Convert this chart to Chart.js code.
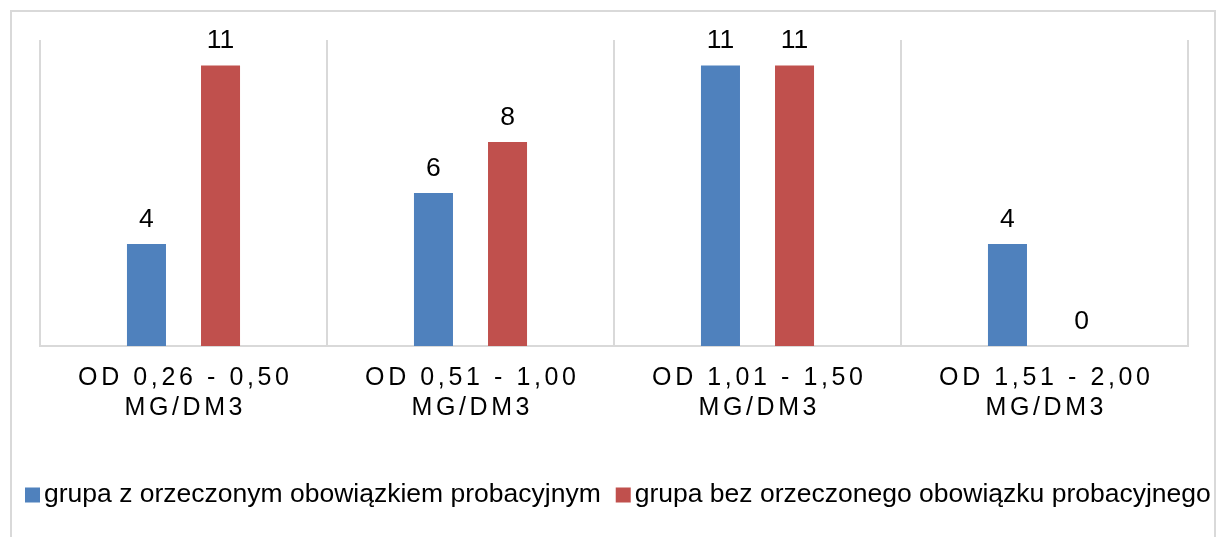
<!DOCTYPE html>
<html>
<head>
<meta charset="utf-8">
<script src="https://cdn.jsdelivr.net/npm/chart.js@4.4.1/dist/chart.umd.min.js"></script>
<style>
  html, body { margin: 0; padding: 0; background: #ffffff; }
  #wrap { width: 1217px; height: 537px; position: relative; }
</style>
</head>
<body>
<div id="wrap"><canvas id="c" width="1217" height="537"></canvas></div>
<script>
const categories = [
  ["OD 0,26 - 0,50", "MG/DM3"],
  ["OD 0,51 - 1,00", "MG/DM3"],
  ["OD 1,01 - 1,50", "MG/DM3"],
  ["OD 1,51 - 2,00", "MG/DM3"]
];
const seriesNames = [
  "grupa z orzeczonym obowiązkiem probacyjnym",
  "grupa bez orzeczonego obowiązku probacyjnego"
];
const withProbation = [4, 6, 11, 4];
const withoutProbation = [11, 8, 11, 0];
const seriesColors = ["#4f81bd", "#c0504d"];
const yMin = 0;
const yMax = 12;

const FONT = "'Liberation Sans', Arial, sans-serif";

const frame = {
  id: 'frame',
  beforeDraw(chart) {
    const ctx = chart.ctx;
    ctx.save();
    ctx.strokeStyle = '#d9d9d9';
    ctx.lineWidth = 2;
    ctx.beginPath();
    ctx.moveTo(10, 11); ctx.lineTo(1216, 11);
    ctx.moveTo(11, 10); ctx.lineTo(11, 537);
    ctx.moveTo(1215, 10); ctx.lineTo(1215, 537);
    ctx.stroke();
    ctx.restore();
  }
};

const spacedLabels = {
  id: 'spacedLabels',
  afterLayout(chart) {
    const s = chart.scales.x;
    if (s && !s.__spaced) {
      const orig = s.drawLabels.bind(s);
      s.drawLabels = function (area) {
        const ctx = this.ctx;
        ctx.save();
        ctx.letterSpacing = '3.6px';
        ctx.translate(1.8, 0);
        orig(area);
        ctx.restore();
      };
      s.__spaced = true;
    }
  }
};

const valueLabels = {
  id: 'valueLabels',
  afterDatasetsDraw(chart) {
    const ctx = chart.ctx;
    ctx.save();
    ctx.font = "26.5px " + FONT;
    ctx.fillStyle = '#000000';
    ctx.textAlign = 'center';
    ctx.textBaseline = 'alphabetic';
    chart.data.datasets.forEach((ds, i) => {
      const meta = chart.getDatasetMeta(i);
      meta.data.forEach((el, j) => {
        ctx.fillText(String(ds.data[j]), el.x, el.y - 17.5);
      });
    });
    ctx.restore();
  }
};

const customLegend = {
  id: 'customLegend',
  afterDraw(chart) {
    const ctx = chart.ctx;
    ctx.save();
    ctx.font = "26.5px " + FONT;
    ctx.textBaseline = 'middle';
    ctx.textAlign = 'left';
    let x = 25;
    const yc = 495;
    chart.data.datasets.forEach((ds, i) => {
      ctx.fillStyle = ds.backgroundColor;
      ctx.fillRect(x, yc - 7.5, 15, 15);
      x += 19;
      ctx.fillStyle = '#000000';
      ctx.fillText(ds.label, x, yc);
      x += ctx.measureText(ds.label).width + 15;
    });
    ctx.restore();
  }
};

new Chart(document.getElementById('c'), {
  type: 'bar',
  data: {
    labels: categories,
    datasets: [
      { label: seriesNames[0], data: withProbation, backgroundColor: seriesColors[0] },
      { label: seriesNames[1], data: withoutProbation, backgroundColor: seriesColors[1] }
    ]
  },
  options: {
    responsive: false,
    animation: false,
    devicePixelRatio: 1,
    categoryPercentage: 0.516,
    barPercentage: 0.527,
    layout: { padding: { left: 40, right: 29, top: 40, bottom: 91 } },
    plugins: {
      legend: { display: false },
      tooltip: { enabled: false },
      title: { display: false }
    },
    scales: {
      x: {
        offset: true,
        grid: { display: true, offset: true, color: '#d9d9d9', lineWidth: 2, drawTicks: false },
        border: { display: true, color: '#d9d9d9', width: 2 },
        ticks: {
          color: '#000000',
          padding: 17,
          maxRotation: 0,
          autoSkip: false,
          font: { family: FONT, size: 25, lineHeight: 1.2 }
        },
        afterFit(scale) { scale.height = 100; }
      },
      y: {
        display: false,
        min: yMin,
        max: yMax,
        grid: { display: false }
      }
    }
  },
  plugins: [frame, spacedLabels, valueLabels, customLegend]
});
</script>
</body>
</html>
